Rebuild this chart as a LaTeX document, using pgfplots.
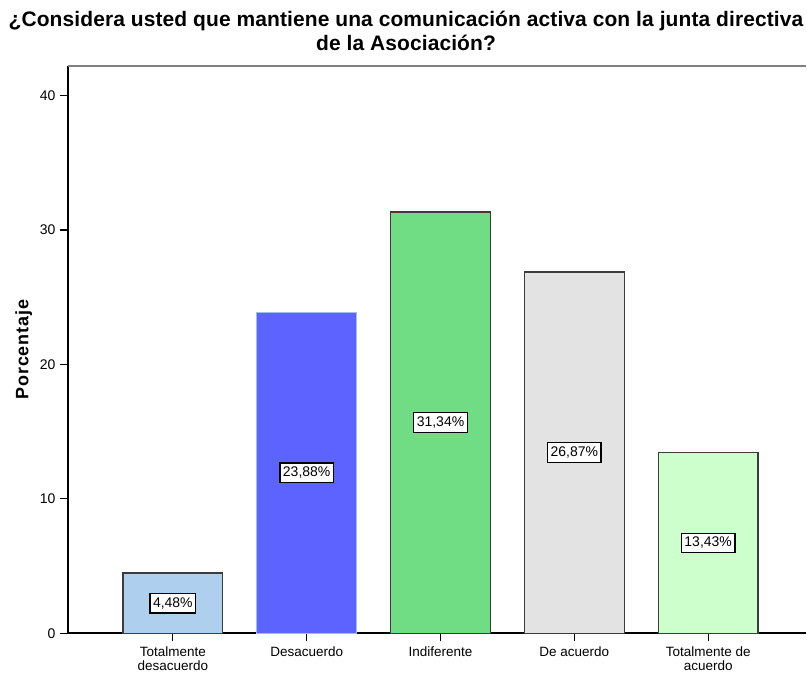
\documentclass[border=0pt]{standalone}
\usepackage{pgfplots}
\pgfplotsset{compat=1.18}
\usepackage{fontspec}
\setmainfont{Liberation Sans}
\newfontfamily\labfont[LetterSpace=5]{Liberation Sans}
\newfontfamily\titfont[LetterSpace=0.5]{Liberation Sans}
\definecolor{c1}{RGB}{174,208,238}
\definecolor{c2}{RGB}{92,99,255}
\definecolor{c3}{RGB}{112,220,132}
\definecolor{c4}{RGB}{227,227,227}
\definecolor{c5}{RGB}{204,255,204}
\definecolor{b2}{RGB}{160,190,240}
\definecolor{edge}{RGB}{60,60,60}
\begin{document}
\begin{tikzpicture}
\begin{axis}[
  scale only axis,
  width=739pt, height=568pt,
  xmin=-0.784, xmax=4.731,
  ymin=0, ymax=42.2,
  axis x line*=bottom, axis y line*=left,
  axis line style={black, line width=1.5pt},
  /pgf/number format/assume math mode=true,
  ytick={0,10,20,30,40},
  xtick={0,1,2,3,4},
  xticklabels={{Totalmente\\desacuerdo},{Desacuerdo},{Indiferente},{De acuerdo},{Totalmente de\\acuerdo}},
  xticklabel style={align=center, font=\fontsize{13.5}{14}\selectfont, yshift=-2pt},
  yticklabel style={font=\fontsize{14}{16}\selectfont, xshift=-1pt},
  tick align=outside,
  major tick length=8pt,
  tick style={black, line width=1.3pt},
  ybar,
  bar width=0.746,
  ylabel={Porcentaje},
  ylabel style={at={(axis description cs:-0.06,0.5)}, anchor=center, font=\fontsize{18}{18}\selectfont\bfseries\labfont},
  title={¿Considera usted que mantiene una comunicación activa con la junta directiva\\de la Asociación?},
  title style={at={(rel axis cs:0.5,1)}, anchor=south, inner sep=0pt, xshift=-31pt, yshift=9pt, align=center, font=\fontsize{21}{24}\selectfont\bfseries\titfont},
  clip=false,
]
\addplot[bar shift=0pt, fill=c1, draw=edge, line width=1.3pt] coordinates {(0,4.48)};
\addplot[bar shift=0pt, fill=c2, draw=b2, line width=1.3pt] coordinates {(1,23.88)};
\addplot[bar shift=0pt, fill=c3, draw=edge, line width=1.3pt] coordinates {(2,31.34)};
\addplot[bar shift=0pt, fill=c4, draw=edge, line width=1.3pt] coordinates {(3,26.87)};
\addplot[bar shift=0pt, fill=c5, draw=edge, line width=1.3pt] coordinates {(4,13.43)};
\addplot[only marks, mark=none, bar shift=0pt, point meta=explicit symbolic,
  nodes near coords,
  nodes near coords style={anchor=center, draw=black, fill=white, line width=1.3pt, inner xsep=3pt, inner ysep=4pt, font=\fontsize{14}{16}\selectfont}]
  coordinates {(0,2.24) [4,48\%] (1,11.94) [23,88\%] (2,15.67) [31,34\%] (3,13.435) [26,87\%] (4,6.715) [13,43\%]};
\draw[gray, line width=2pt] (rel axis cs:0,1) -- (rel axis cs:1,1);
\end{axis}
\path (current axis.south west) ++(-68pt,-44pt);
\path (current axis.north east) ++(0pt,66pt);
\end{tikzpicture}
\end{document}
